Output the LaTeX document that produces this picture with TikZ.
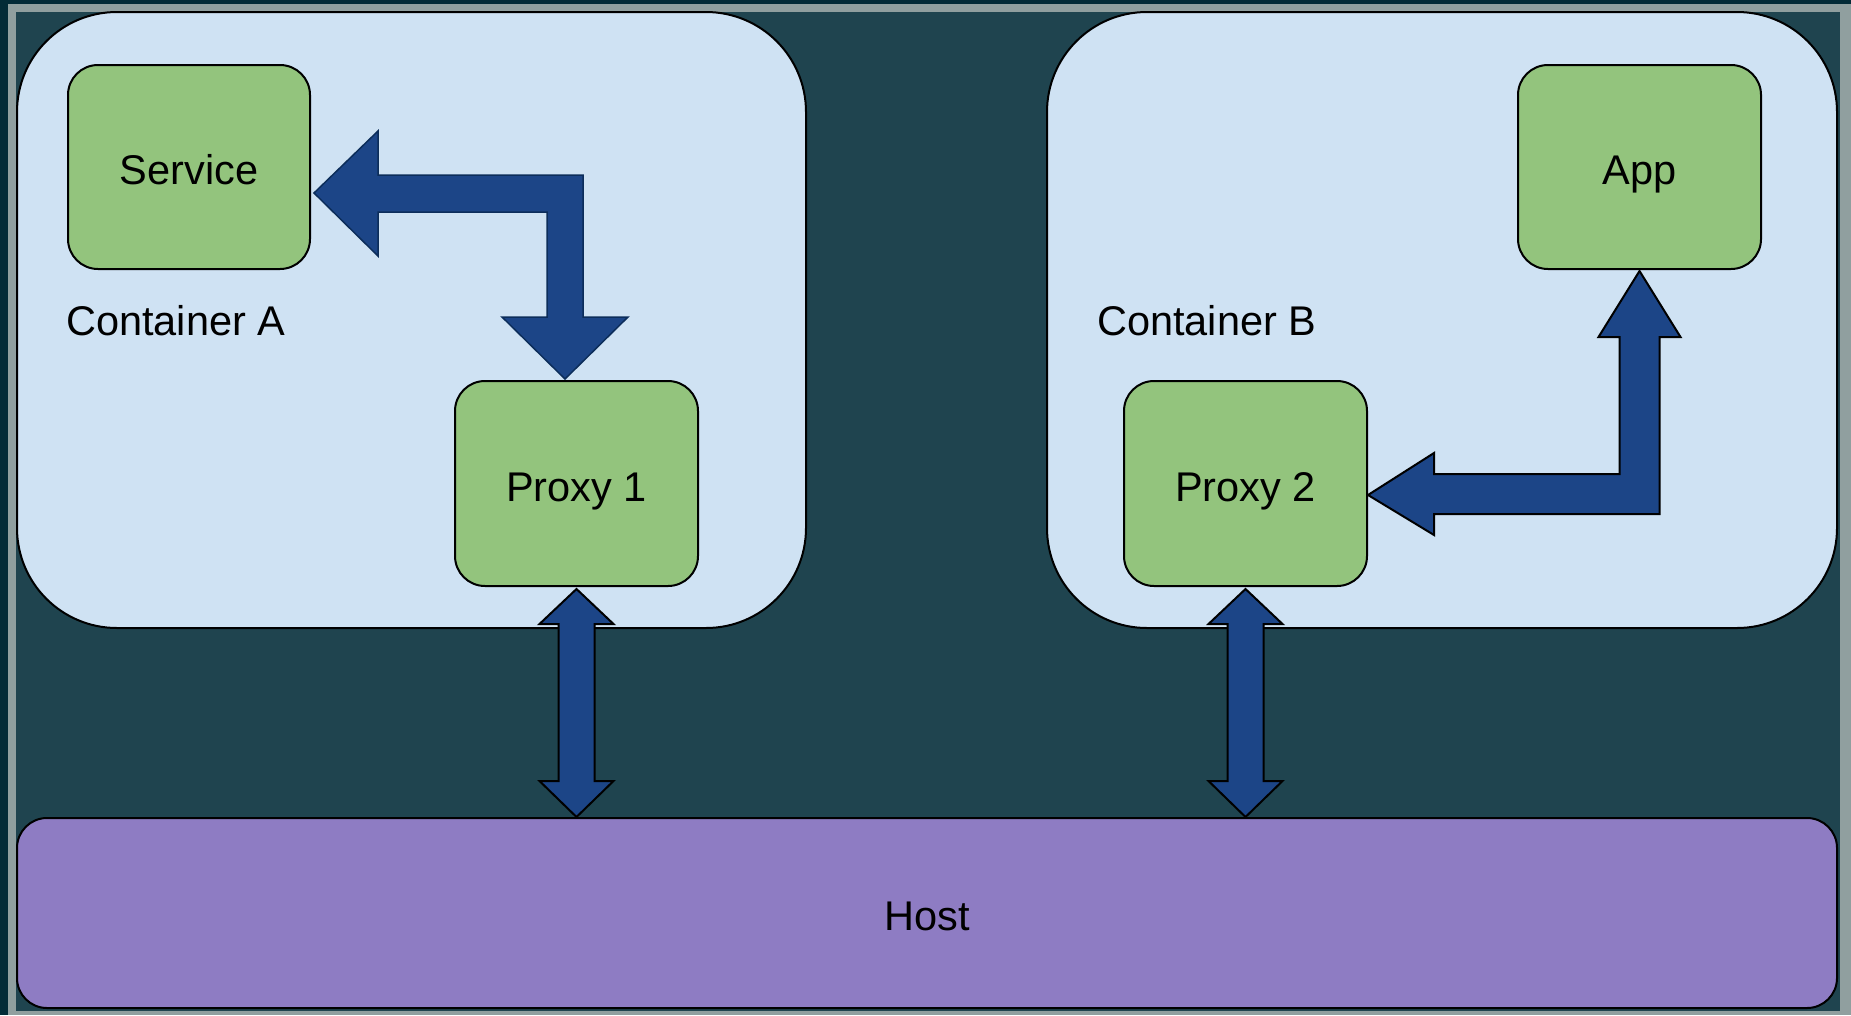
\documentclass[tikz,border=0pt]{standalone}
\usepackage{fontspec}
\setmainfont{Liberation Sans}
\usetikzlibrary{calc}
\definecolor{outerbg}{HTML}{032B37}
\definecolor{framegrey}{HTML}{909F9F}
\definecolor{innerbg}{HTML}{1F444F}
\definecolor{contfill}{HTML}{CFE2F3}
\definecolor{boxgreen}{HTML}{93C47D}
\definecolor{hostpurple}{HTML}{8E7CC3}
\definecolor{arrowblue}{HTML}{1C4587}
\definecolor{arrownavy}{HTML}{0C2D5A}
\tikzset{
  lbl/.style={font=\fontsize{41.5pt}{50pt}\selectfont, text=black},
  ctext/.style={lbl, text height=38pt, text depth=3pt},
  container/.style={draw=black, line width=2pt, fill=contfill, rounded corners=100pt, inner sep=0pt},
  gbox/.style={draw=black, line width=2pt, fill=boxgreen, rounded corners=30pt, inner sep=0pt, minimum width=243pt, minimum height=205pt, ctext},
  hostbox/.style={draw=black, line width=2pt, fill=hostpurple, rounded corners=30pt, inner sep=0pt, minimum width=1820pt, minimum height=190pt, ctext},
  blockarrow/.style={fill=arrowblue, draw=black, line width=2pt, line join=miter},
  blockarrowthin/.style={fill=arrowblue, draw=arrownavy, line width=1.5pt, line join=miter}
}
\begin{document}
\begin{tikzpicture}[x=1pt,y=-1pt]
\useasboundingbox (0,0) rectangle (1851,1015);
\fill[outerbg] (0,0) rectangle (1851,1015);
\fill[framegrey] (8,4) rectangle (1851,1015);
\fill[innerbg] (16,12) rectangle (1840,1011);

% containers
\node[container, minimum width=789pt, minimum height=616pt] (contA) at (411.5,320) {};
\node[container, minimum width=790pt, minimum height=616pt] (contB) at (1442,320) {};
\node[lbl, anchor=base west, inner sep=0pt] (labA) at (66,335) {Container A};
\node[lbl, anchor=base west, inner sep=0pt] (labB) at (1097,335) {Container B};

% host
\node[hostbox] (host) at (927,913) {Host};

% green boxes
\node[gbox, minimum width=242pt, minimum height=204pt] (service) at (189,167) {Service};
\node[gbox, minimum width=243pt, minimum height=204pt] (app) at (1639.5,167) {App};
\node[gbox] (proxy1) at (576.5,483.5) {Proxy 1};
\node[gbox] (proxy2) at (1245.5,483.5) {Proxy 2};

% bent arrow: Service <-> Proxy 1
\path[blockarrowthin] let \p1=($(service.east)+(3,26)$), \p2=($(proxy1.north)+(-11.5,-1)$) in
  (\x1,\y1) -- (\x1+64pt,\y1+62pt) -- (\x1+64pt,\y1+18pt) -- (\x2+18pt,\y1+18pt)
  -- (\x2+18pt,\y2+62pt) -- (\x2+63pt,\y2+62pt) -- (\x2,\y2) -- (\x2-63pt,\y2+62pt)
  -- (\x2-18pt,\y2+62pt) -- (\x2-18pt,\y1-19pt) -- (\x1+64pt,\y1-19pt) -- (\x1+64pt,\y1-63pt) -- cycle;

% bent arrow: Proxy 2 <-> App
\path[blockarrow] let \p1=($(proxy2.east)+(0,11.5)$), \p2=($(app.south)+(0,1)$) in
  (\x1,\y1) -- (\x1+66pt,\y1+42pt) -- (\x1+66pt,\y1+21pt) -- (\x2-20pt,\y1+21pt)
  -- (\x2-20pt,\y2-66pt) -- (\x2-41pt,\y2-66pt) -- (\x2,\y2) -- (\x2+41pt,\y2-66pt)
  -- (\x2+20pt,\y2-66pt) -- (\x2+20pt,\y1-19pt) -- (\x1+66pt,\y1-19pt) -- (\x1+66pt,\y1-40pt) -- cycle;

% vertical double arrows to host
\foreach \pr in {proxy1,proxy2}{
  \path[blockarrow] let \p1=($(\pr.south)+(0,2)$), \p2=($(\pr.south |- host.north)$) in
    (\x1,\y1) -- (\x1+37pt,\y1-35pt) -- (\x1+18pt,\y1-35pt) -- (\x1+18pt,\y2+36pt)
    -- (\x1+37pt,\y2+36pt) -- (\x1,\y2) -- (\x1-37pt,\y2+36pt) -- (\x1-18pt,\y2+36pt)
    -- (\x1-18pt,\y1-35pt) -- (\x1-37pt,\y1-35pt) -- cycle;
}
\end{tikzpicture}
\end{document}
